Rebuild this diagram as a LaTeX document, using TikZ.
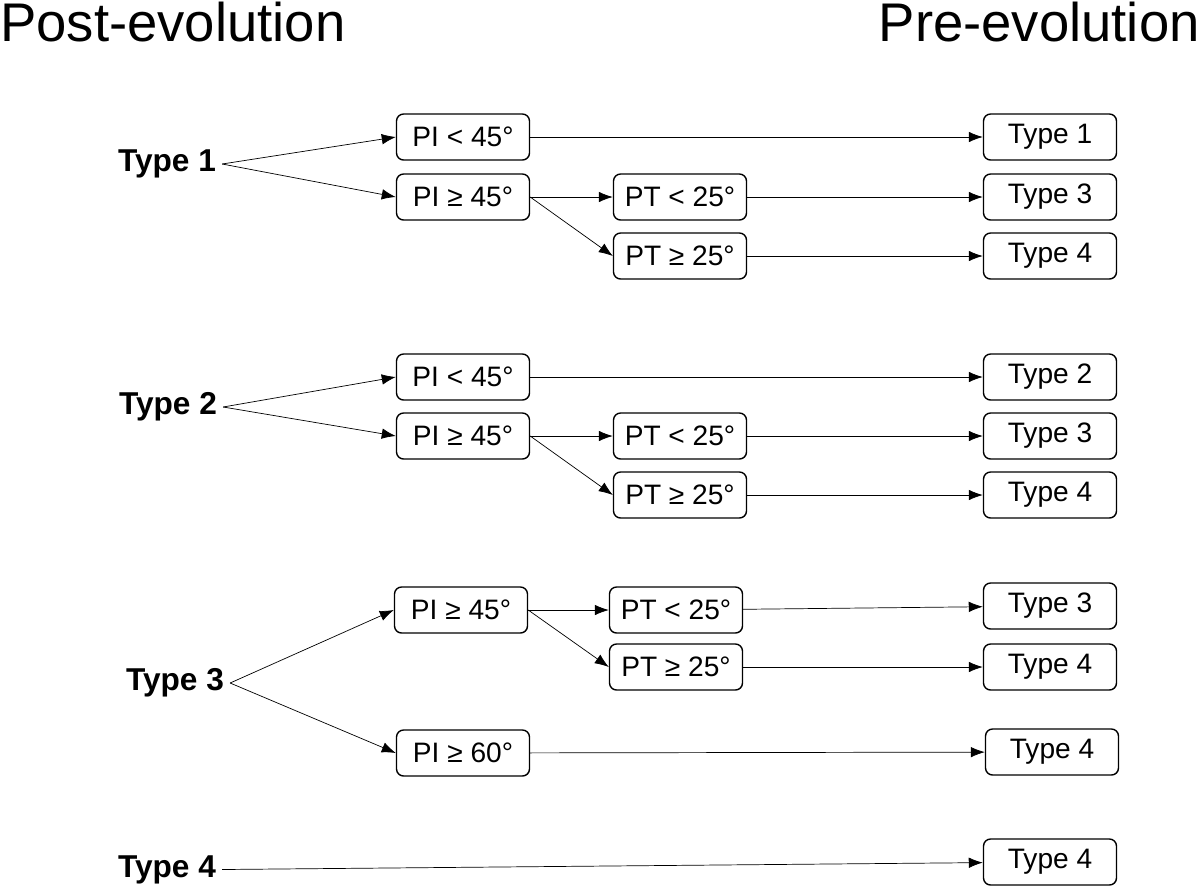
\documentclass[tikz,border=0pt]{standalone}
\usepackage{fontspec}
\setmainfont{Liberation Sans}
\usetikzlibrary{arrows.meta}
\tikzset{
  cond/.style={draw, thick, rounded corners=4pt, minimum width=2.66cm, minimum height=0.92cm, font=\fontsize{16pt}{18pt}\selectfont, inner sep=0pt},
  src/.style={font=\fontsize{18pt}{20pt}\selectfont\bfseries},
  title/.style={font=\fontsize{31pt}{34pt}\selectfont, inner sep=0pt},
  every edge/.style={draw, -{Latex[length=8pt,width=6pt]}},
}
\begin{document}
\begin{tikzpicture}[x=0.02cm, y=-0.02cm]
  \useasboundingbox (0,0) rectangle (1200,890);
  % titles
  \node[title, anchor=west] (post) at (0,22) {Post-evolution};
  \node[title, anchor=east] (pre) at (1200,22) {Pre-evolution};

  % group 1
  \node[src] (t1) at (167,164) {Type 1};
  \node[cond] (a1) at (463,137) {PI < 45°};
  \node[cond] (b1) at (463,197) {PI ≥ 45°};
  \node[cond] (c1) at (680,197) {PT < 25°};
  \node[cond] (d1) at (680,256) {PT ≥ 25°};
  \node[cond] (r11) at (1050,137) {Type 1};
  \node[cond] (r12) at (1050,197) {Type 3};
  \node[cond] (r13) at (1050,256) {Type 4};
  \draw (t1.east) edge (a1.west) (t1.east) edge (b1.west)
        (b1.east) edge (c1.west) (b1.east) edge (d1.west)
        (a1) edge (r11) (c1) edge (r12) (d1) edge (r13);

  % group 2
  \node[src] (t2) at (168,407) {Type 2};
  \node[cond] (a2) at (463,377) {PI < 45°};
  \node[cond] (b2) at (463,436) {PI ≥ 45°};
  \node[cond] (c2) at (680,436) {PT < 25°};
  \node[cond] (d2) at (680,495) {PT ≥ 25°};
  \node[cond] (r21) at (1050,377) {Type 2};
  \node[cond] (r22) at (1050,436) {Type 3};
  \node[cond] (r23) at (1050,495) {Type 4};
  \draw (t2.east) edge (a2.west) (t2.east) edge (b2.west)
        (b2.east) edge (c2.west) (b2.east) edge (d2.west)
        (a2) edge (r21) (c2) edge (r22) (d2) edge (r23);

  % group 3
  \node[src] (t3) at (175,683) {Type 3};
  \node[cond] (b3) at (461,610) {PI ≥ 45°};
  \node[cond] (c3) at (676,610) {PT < 25°};
  \node[cond] (d3) at (676,667) {PT ≥ 25°};
  \node[cond] (e3) at (463,753) {PI ≥ 60°};
  \node[cond] (r31) at (1050,606) {Type 3};
  \node[cond] (r32) at (1050,667) {Type 4};
  \node[cond] (r33) at (1052,752) {Type 4};
  \draw (t3.east) edge (b3.west) (t3.east) edge (e3.west)
        (b3.east) edge (c3.west) (b3.east) edge (d3.west)
        (c3) edge (r31) (d3) edge (r32) (e3) edge (r33);

  % group 4
  \node[src] (t4) at (167,870) {Type 4};
  \node[cond] (r41) at (1050,862) {Type 4};
  \draw (t4) edge (r41);
\end{tikzpicture}
\end{document}
